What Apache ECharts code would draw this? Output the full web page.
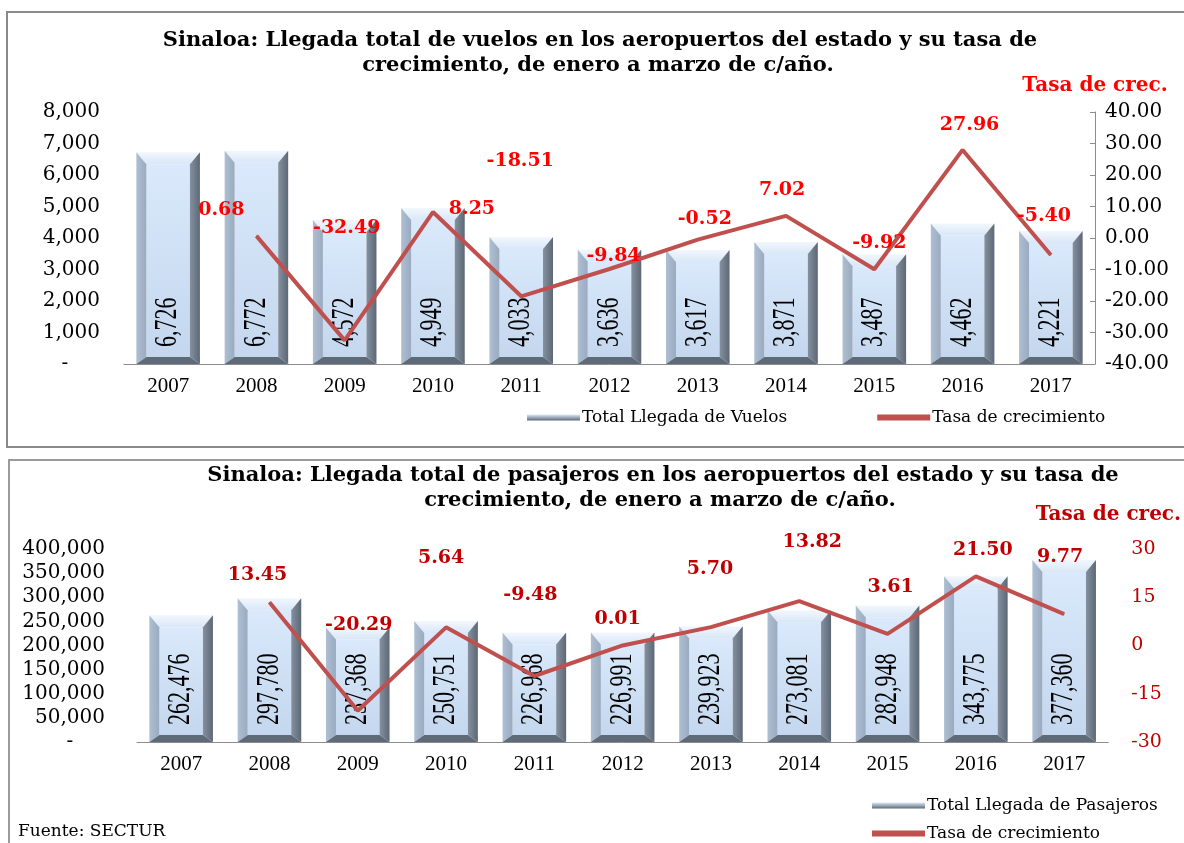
<!DOCTYPE html>
<html>
<head>
<meta charset="utf-8">
<title>Sinaloa: vuelos y pasajeros</title>
<script src="https://cdn.jsdelivr.net/npm/echarts@6/dist/echarts.min.js"></script>
<style>
    html, body { margin: 0; padding: 0; background: #fff; }
    #main { width: 1184px; height: 843px; }
</style>
</head>
<body>
<div id="main"></div>
<script>
    // datos
    var years = ['2007', '2008', '2009', '2010', '2011', '2012', '2013', '2014', '2015', '2016', '2017'];
    var vuelos = [6726, 6772, 4572, 4949, 4033, 3636, 3617, 3871, 3487, 4462, 4221];
    var tasaVuelos = [null, 0.68, -32.49, 8.25, -18.51, -9.84, -0.52, 7.02, -9.92, 27.96, -5.40];
    var pasajeros = [262476, 297780, 237368, 250751, 226968, 226991, 239923, 273081, 282948, 343775, 377360];
    var tasaPasajeros = [null, 13.45, -20.29, 5.64, -9.48, 0.01, 5.70, 13.82, 3.61, 21.50, 9.77];

    // ticks de los ejes: [min, max, intervalo]
    var vuelosTicks = [0, 8000, 1000];
    var tasaVuelosTicks = [-40, 40, 10];
    var pasajerosTicks = [0, 400000, 50000];
    var tasaPasajerosTicks = [-30, 30, 15];

    // posiciones de las etiquetas (como en el original de Excel)
    var offVuelos = [[0, 0], [-35, -26], [2, -112], [39, -3], [-1, -135], [4, -13], [7, -21], [-4, -26], [5, -26], [7, -25], [-7, -39]];
    var offPasajeros = [[0, 0], [-12, -27], [1, -86], [-5, -69], [-4, -81], [-5, -26], [-1, -58], [13, -59], [3, -47], [7, -26], [-4, -57]];

    var serif = '"DejaVu Serif", serif';
    var times = '"Liberation Serif", "Times New Roman", serif';
    var rojo = '#c0504d';

    function miles(v) {
        return v === 0 ? '-     ' : v.toLocaleString('en-US');
    }

    function grad(a, b, horiz) {
        return new echarts.graphic.LinearGradient(0, 0, horiz ? 1 : 0, horiz ? 0 : 1, [
            {offset: 0, color: a},
            {offset: 1, color: b}
        ]);
    }

    // barra con bisel
    function renderBevel(params, api) {
        var idx = api.value(0);
        var v = api.value(1);
        var top = api.coord([idx, v]);
        var base = api.coord([idx, 0]);
        var w = api.size([1, 0])[0] * 0.72;
        var x0 = top[0] - w / 2, x1 = top[0] + w / 2;
        var y0 = top[1], y1 = base[1];
        var b = 10, bt = 12, bb = 7;
        return {
            type: 'group',
            children: [
                {type: 'polygon', shape: {points: [[x0 + b, y0 + bt], [x1 - b, y0 + bt], [x1 - b, y1 - bb], [x0 + b, y1 - bb]]},
                    style: {fill: grad('#dae9fb', '#c4d7ee')}},
                {type: 'polygon', shape: {points: [[x0, y0], [x1, y0], [x1 - b, y0 + bt], [x0 + b, y0 + bt]]},
                    style: {fill: grad('#f2f7fd', '#d9e7f7')}},
                {type: 'polygon', shape: {points: [[x0, y0], [x0 + b, y0 + bt], [x0 + b, y1 - bb], [x0, y1]]},
                    style: {fill: grad('#aebfd3', '#9aabbf', true)}},
                {type: 'polygon', shape: {points: [[x1, y0], [x1, y1], [x1 - b, y1 - bb], [x1 - b, y0 + bt]]},
                    style: {fill: grad('#8591a0', '#5d6876', true)}},
                {type: 'polygon', shape: {points: [[x0, y1], [x0 + b, y1 - bb], [x1 - b, y1 - bb], [x1, y1]]},
                    style: {fill: '#5f6a78'}},
                {type: 'text', x: top[0], y: y1 - 17, rotation: Math.PI / 2, scaleY: 1.4, z2: 10,
                    style: {text: v.toLocaleString('en-US'), fill: '#000', font: '22px ' + times,
                        align: 'left', verticalAlign: 'middle'}}
            ]
        };
    }

    function lineData(vals, offs) {
        return vals.map(function (v, i) {
            return {value: v, label: {offset: offs[i]}};
        });
    }

    function catAxis(grid) {
        return {
            type: 'category', gridIndex: grid, data: years,
            axisLine: {lineStyle: {color: '#8c8c8c', width: 1}},
            axisTick: {length: 6, lineStyle: {color: '#8c8c8c'}},
            axisLabel: {color: '#000', fontFamily: times, fontSize: 21, margin: 12}
        };
    }

    function titulo(text, x, y) {
        return {type: 'text', x: x, y: y, silent: true,
            style: {text: text, fill: '#000', font: 'bold 21px ' + serif, align: 'center', verticalAlign: 'middle'}};
    }

    var chartDom = document.getElementById('main');
    var myChart = echarts.init(chartDom);
    var option;

    option = {
        animation: false,
        backgroundColor: '#fff',
        grid: [
            {left: 124, right: 89, top: 112, height: 252},
            {left: 137, right: 72, top: 549, height: 193}
        ],
        xAxis: [catAxis(0), catAxis(1)],
        yAxis: [
            {
                type: 'value', gridIndex: 0, min: vuelosTicks[0], max: vuelosTicks[1], interval: vuelosTicks[2],
                splitLine: {show: false}, axisLine: {show: false}, axisTick: {show: false},
                axisLabel: {color: '#000', fontFamily: serif, fontSize: 20, margin: 24, formatter: miles}
            },
            {
                type: 'value', gridIndex: 0, position: 'right',
                min: tasaVuelosTicks[0], max: tasaVuelosTicks[1], interval: tasaVuelosTicks[2],
                name: 'Tasa de crec.', nameLocation: 'end', nameGap: 16,
                nameTextStyle: {color: '#ff0000', fontFamily: serif, fontWeight: 'bold', fontSize: 20, align: 'center'},
                splitLine: {show: false},
                axisLine: {show: true, lineStyle: {color: '#8c8c8c'}},
                axisTick: {show: true, inside: true, length: 5, lineStyle: {color: '#8c8c8c'}},
                axisLabel: {color: '#000', fontFamily: serif, fontSize: 20, margin: 10,
                    formatter: function (v) { return v.toFixed(2); }}
            },
            {
                type: 'value', gridIndex: 1, min: pasajerosTicks[0], max: pasajerosTicks[1], interval: pasajerosTicks[2],
                splitLine: {show: false}, axisLine: {show: false}, axisTick: {show: false},
                axisLabel: {color: '#000', fontFamily: serif, fontSize: 20, margin: 32, formatter: miles}
            },
            {
                type: 'value', gridIndex: 1, position: 'right',
                min: tasaPasajerosTicks[0], max: tasaPasajerosTicks[1], interval: tasaPasajerosTicks[2],
                name: 'Tasa de crec.', nameLocation: 'end', nameGap: 24,
                nameTextStyle: {color: '#c00000', fontFamily: serif, fontWeight: 'bold', fontSize: 20, align: 'center'},
                splitLine: {show: false}, axisLine: {show: false}, axisTick: {show: false},
                axisLabel: {color: '#c00000', fontFamily: serif, fontSize: 19, margin: 23}
            }
        ],
        legend: [
            {
                left: 527, top: 409, padding: 0, itemGap: 90, itemWidth: 53, itemHeight: 6,
                textStyle: {color: '#000', fontFamily: serif, fontSize: 17, lineHeight: 17, padding: [0, 0, 0, -3]},
                data: [{name: 'Total Llegada de Vuelos', icon: 'rect'}, {name: 'Tasa de crecimiento', icon: 'rect'}]
            },
            {
                left: 872, top: 797, padding: 0, orient: 'vertical', itemGap: 11, itemWidth: 53, itemHeight: 6,
                textStyle: {color: '#000', fontFamily: serif, fontSize: 17, lineHeight: 17, padding: [0, 0, 0, -3]},
                data: [{name: 'Total Llegada de Pasajeros', icon: 'rect'}, {name: 'Tasa de crecimiento ', icon: 'rect'}],
                formatter: function (n) { return n.trim(); }
            }
        ],
        graphic: [
            {type: 'rect', shape: {x: 7, y: 12, width: 1200, height: 435},
                style: {fill: null, stroke: '#8a8a8a', lineWidth: 2}, silent: true},
            {type: 'rect', shape: {x: 9, y: 460, width: 1200, height: 420},
                style: {fill: null, stroke: '#9a9a9a', lineWidth: 2}, silent: true},
            titulo('Sinaloa: Llegada total de vuelos en los aeropuertos del estado y su tasa de', 600, 41),
            titulo('crecimiento, de enero a marzo de c/año.', 598, 66),
            titulo('Sinaloa: Llegada total de pasajeros en los aeropuertos del estado y su tasa de', 663, 476),
            titulo('crecimiento, de enero a marzo de c/año.', 660, 501),
            {type: 'text', x: 18, y: 832, silent: true,
                style: {text: 'Fuente: SECTUR', fill: '#000', font: '17px ' + serif, verticalAlign: 'middle'}}
        ],
        series: [
            {
                name: 'Total Llegada de Vuelos', type: 'custom', xAxisIndex: 0, yAxisIndex: 0,
                renderItem: renderBevel,
                itemStyle: {color: grad('#dbe9f8', '#5f6a78')},
                encode: {x: 0, y: 1},
                data: vuelos.map(function (v, i) { return [i, v]; })
            },
            {
                name: 'Tasa de crecimiento', type: 'line', xAxisIndex: 0, yAxisIndex: 1,
                symbol: 'circle', symbolSize: 1, showSymbol: true,
                itemStyle: {color: rojo},
                lineStyle: {color: rojo, width: 4},
                label: {show: true, position: 'inside', color: '#ff0000', fontFamily: serif, fontWeight: 'bold', fontSize: 19,
                    formatter: function (p) { return p.value.toFixed(2); }},
                z: 5,
                data: lineData(tasaVuelos, offVuelos)
            },
            {
                name: 'Total Llegada de Pasajeros', type: 'custom', xAxisIndex: 1, yAxisIndex: 2,
                renderItem: renderBevel,
                itemStyle: {color: grad('#dbe9f8', '#5f6a78')},
                encode: {x: 0, y: 1},
                data: pasajeros.map(function (v, i) { return [i, v]; })
            },
            {
                name: 'Tasa de crecimiento ', type: 'line', xAxisIndex: 1, yAxisIndex: 3,
                symbol: 'circle', symbolSize: 1, showSymbol: true,
                itemStyle: {color: rojo},
                lineStyle: {color: rojo, width: 4},
                label: {show: true, position: 'inside', color: '#c00000', fontFamily: serif, fontWeight: 'bold', fontSize: 19,
                    formatter: function (p) { return p.value.toFixed(2); }},
                z: 5,
                data: lineData(tasaPasajeros, offPasajeros)
            }
        ]
    };

    option && myChart.setOption(option);
</script>
</body>
</html>
